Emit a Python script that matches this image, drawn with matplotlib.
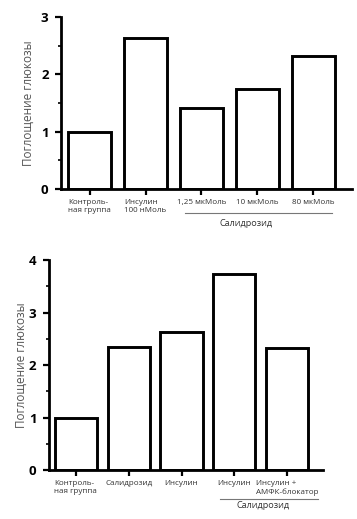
import matplotlib.pyplot as plt
from matplotlib.ticker import MultipleLocator

plt.rcParams['font.family'] = ['Open Sans', 'DejaVu Sans']

# top panel: dose response
top_labels = ["Контроль-\nная группа", "Инсулин\n100 нМоль", "1,25 мкМоль", "10 мкМоль", "80 мкМоль"]
top_values = [1.0, 2.64, 1.42, 1.74, 2.32]

# bottom panel: combinations
bottom_labels = ["Контроль-\nная группа", "Салидрозид", "Инсулин", "Инсулин", "Инсулин +\nАМФК-блокатор"]
bottom_values = [1.0, 2.35, 2.63, 3.73, 2.32]

ylabel = "Поглощение глюкозы"
group_label = "Салидрозид"

fig = plt.figure(figsize=(3.57, 5.19), dpi=100)
ax1 = fig.add_axes([0.171, 0.636, 0.815, 0.331])
ax2 = fig.add_axes([0.137, 0.094, 0.768, 0.405])


def style_axes(ax, labels, values, width, ymax, xmax, lpad):
    x = list(range(len(values)))
    ax.bar(x, values, width=width, color="white", edgecolor="black", linewidth=2.1)
    ax.set_xlim(-0.51, xmax)
    ax.set_ylim(0, ymax)
    for s in ["top", "right"]:
        ax.spines[s].set_visible(False)
    for s in ["left", "bottom"]:
        ax.spines[s].set_linewidth(2.0)
    ax.yaxis.set_major_locator(MultipleLocator(1))
    ax.yaxis.set_minor_locator(MultipleLocator(0.5))
    ax.tick_params(axis="y", which="major", length=4, width=1.6, labelsize=9.5, pad=5)
    ax.tick_params(axis="y", which="minor", length=2, width=1.2)
    ax.tick_params(axis="x", length=4, width=1.6, labelsize=5.8, pad=3, colors="black",
                   labelcolor="#333333")
    for t in ax.get_yticklabels():
        t.set_fontweight("bold")
    ax.set_xticks(x)
    ax.set_xticklabels(labels, multialignment="left")
    ax.set_ylabel(ylabel, fontsize=8.5, color="#555555", labelpad=lpad)


style_axes(ax1, top_labels, top_values, 0.76, 3, 4.69, 4)
style_axes(ax2, bottom_labels, bottom_values, 0.8, 4, 4.68, 1)

# group brackets under Salidroside bars
tr1 = ax1.get_xaxis_transform()
ax1.plot([1.70, 4.33], [-0.14, -0.14], transform=tr1, color="#777777", lw=0.8, clip_on=False)
ax1.text(2.8, -0.2, group_label, transform=tr1, ha="center", va="center", fontsize=6.6,
         color="#333333")

tr2 = ax2.get_xaxis_transform()
ax2.plot([2.73, 4.58], [-0.138, -0.138], transform=tr2, color="#777777", lw=0.8, clip_on=False)
ax2.text(3.55, -0.17, group_label, transform=tr2, ha="center", va="center", fontsize=6.6,
         color="#333333")

fig.savefig("out.png", dpi=100)
